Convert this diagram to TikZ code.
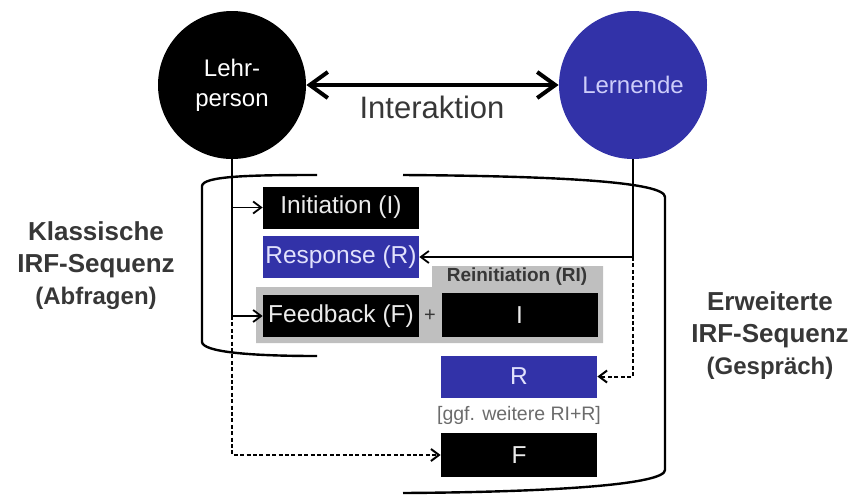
\documentclass[tikz,border=0pt]{standalone}
\usepackage{fontspec}
\setmainfont{Liberation Sans}
\usetikzlibrary{arrows.meta}
\definecolor{lernblau}{RGB}{50,50,168}
\definecolor{lernschrift}{RGB}{205,205,250}
\definecolor{grauschrift}{RGB}{55,55,55}
\tikzset{
	kreis/.style={circle, minimum size=74pt, inner sep=0pt, align=center, font=\fontsize{12}{15}\selectfont},
	kasten/.style={minimum width=78pt, minimum height=21pt, inner sep=0pt, text=white!92!black, font=\fontsize{12.25}{14}\selectfont},
	klammer/.style={line width=1.2pt},
	pfeil/.style={line width=0.9pt, -{Straight Barb[length=4pt,width=6pt]}},
	strichpfeil/.style={pfeil, line width=1pt, dash pattern=on 2pt off 1.2pt},
	titel/.style={align=center, text=grauschrift, font=\bfseries\fontsize{13}{16}\selectfont}
}

\begin{document}
\begin{tikzpicture}[x=0.5pt, y=-0.5pt]
		%%%%% START %%%%%
		\useasboundingbox (0, 0) rectangle (857, 494);
		
		\node[kreis, fill=black, text=white] (lehr) at (232, 85) {Lehr-\\person};
		\node[kreis, fill=lernblau, text=lernschrift] (lern) at (633, 85) {Lernende};
		
		\draw[line width=2pt, {Straight Barb[length=9pt,width=13pt]}-{Straight Barb[length=9pt,width=13pt]}] (lehr) -- (lern);
		\node[text=grauschrift, font=\fontsize{15.5}{18}\selectfont] (interaktion) at (432, 107) {Interaktion};
		
		\fill[gray!50] (256, 287) -- (432, 287) -- (432, 266) -- (603, 266) -- (603, 343) -- (256, 343) -- cycle;
		
		\node[kasten, fill=black] (init) at (341, 207.5) {Initiation (I)};
		\node[kasten, fill=lernblau, text=lernschrift!60!white] (resp) at (341, 257) {Response (R)};
		\node[kasten, fill=black] (feed) at (341, 316) {Feedback (F)};
		\node[text=grauschrift, font=\fontsize{10}{12}\selectfont] (plus) at (430, 316) {+};
		
		\node[text=grauschrift, font=\bfseries\fontsize{9.5}{11}\selectfont] (reinit) at (517, 277) {Reinitiation (RI)};
		\node[kasten, fill=black, minimum height=22pt] (ri) at (519.5, 315) {I};
		\node[kasten, fill=lernblau, text=lernschrift!60!white] (r) at (519, 376.5) {R};
		\node[text=gray!85!black, font=\fontsize{9.75}{11}\selectfont] (weitere) at (519, 415) {[ggf. weitere RI+R]};
		\node[kasten, fill=black, minimum height=22pt] (f) at (519, 455) {F};
		
		\draw[line width=1pt] (lehr.south) -- (lehr.south |- feed.west);
		\draw[pfeil] (lehr.south |- init.west) -- (init.west);
		\draw[pfeil] (lehr.south |- feed.west) -- (feed.west);
		\draw[strichpfeil] (lehr.south |- feed.west) |- (f.west);
		
		\draw[pfeil] (lern.south) |- (resp.east);
		\draw[strichpfeil] (lern.south |- resp.east) |- (r.east);
		
		\draw[klammer] (317, 175) .. controls (250, 175) and (203, 176) .. (202, 186) -- (202, 342) .. controls (203, 352) and (250, 356) .. (317, 356);
		\draw[klammer] (403, 175) .. controls (560, 176) and (665, 182) .. (665, 197) -- (665, 470) .. controls (665, 484) and (560, 492) .. (403, 493);
		
		\node[titel] (klassisch) at (96, 266) {Klassische\\IRF-Sequenz\\{\fontsize{12}{16}\selectfont(Abfragen)}};
		\node[titel] (erweitert) at (770, 336) {Erweiterte\\IRF-Sequenz\\{\fontsize{12}{16}\selectfont(Gespräch)}};
		
		%%%%% END %%%%%
	\end{tikzpicture}
\end{document}
